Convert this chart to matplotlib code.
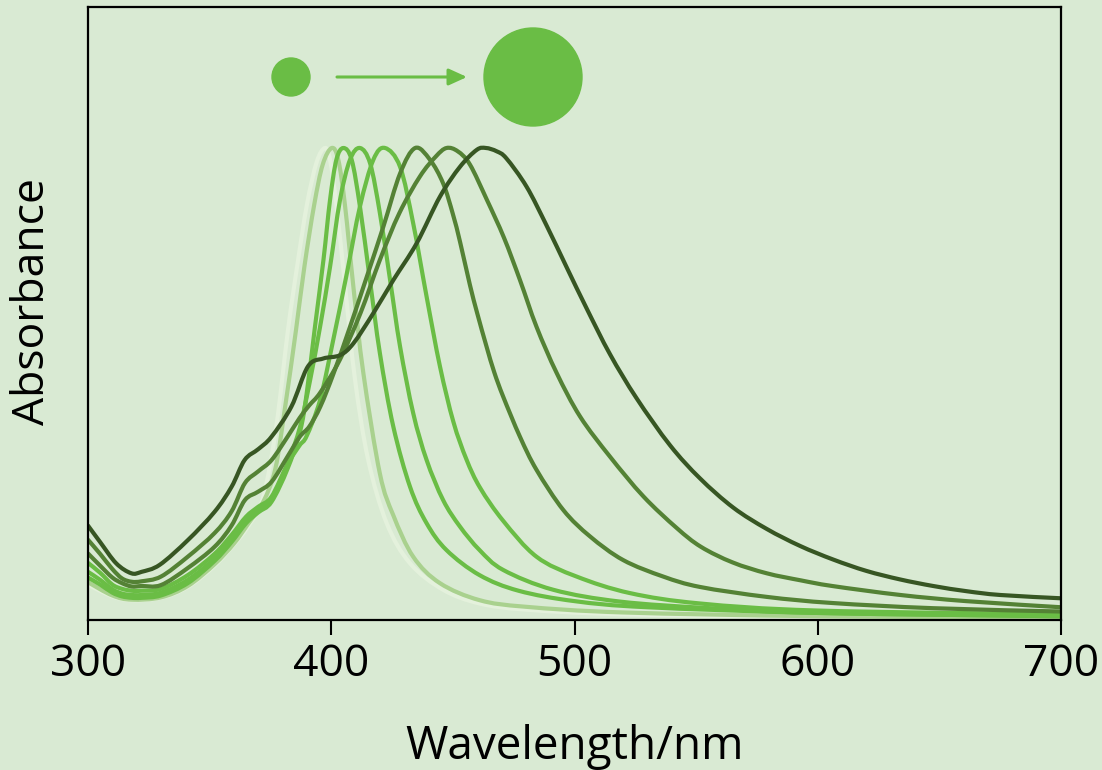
import numpy as np
import matplotlib.pyplot as plt
from matplotlib.patches import Ellipse, PathPatch
from matplotlib.path import Path

# Spectra (wavelength in nm, absorbance normalised to peak)
wl_l0 = [300, 310, 318, 330, 341, 352, 360, 366, 372, 377.4, 382.2, 386, 390, 394, 397.4,
         399.5, 402.2, 405.7, 409.8, 415.2, 422.8, 432.4, 446, 461, 480, 520, 600, 700]
ab_l0 = [0.075, 0.05, 0.042, 0.047, 0.07, 0.115, 0.16, 0.2, 0.26, 0.41, 0.614, 0.75, 0.88, 0.97, 1.0,
         0.975, 0.876, 0.706, 0.508, 0.339, 0.205, 0.12, 0.064, 0.035, 0.022, 0.012, 0.006, 0.004]

wl_l1 = [300, 310, 318, 330, 341, 352, 360, 366, 372, 377, 381, 385.5, 389, 393, 396.5, 400.2,
         402.9, 405.7, 409.1, 413.2, 420, 425.5, 433.7, 444.7, 461, 480, 520, 600, 700]
ab_l1 = [0.08, 0.052, 0.043, 0.048, 0.072, 0.118, 0.162, 0.205, 0.25, 0.32, 0.45, 0.614, 0.75, 0.88, 0.965, 1.0,
         0.975, 0.876, 0.706, 0.523, 0.31, 0.222, 0.134, 0.078, 0.042, 0.028, 0.016, 0.008, 0.005]

wl_g3 = [300, 305, 310, 314, 318, 322, 330, 341, 352, 359, 365, 370, 375.4, 382, 387.2, 389.9, 393.3,
         396.8, 399.5, 402.1, 405, 408.4, 411.8, 415.9, 420, 425.5, 432.4, 439.2, 447.4, 461, 477,
         500, 530, 600, 700]
ab_g3 = [0.09, 0.075, 0.058, 0.05, 0.047, 0.047, 0.052, 0.078, 0.125, 0.165, 0.205, 0.228, 0.25, 0.32, 0.40, 0.48, 0.621,
         0.763, 0.89, 0.975, 1.0, 0.975, 0.876, 0.72, 0.565, 0.41, 0.282, 0.205, 0.148, 0.095, 0.062,
         0.04, 0.027, 0.015, 0.008]

wl_g2 = [300, 305, 310, 314, 318, 322, 330, 341, 352, 359, 365, 370, 375.4, 382, 387.2, 391.3, 395.4,
         399.5, 403.6, 407.7, 411.8, 416, 420, 424.2, 428.3, 433.7, 439.2, 446, 452.9, 461, 470.7,
         491.3, 518.7, 555.7, 600, 700]
ab_g2 = [0.102, 0.085, 0.065, 0.056, 0.053, 0.053, 0.058, 0.085, 0.13, 0.17, 0.21, 0.232, 0.255, 0.33, 0.41, 0.508, 0.621,
         0.748, 0.89, 0.975, 1.0, 0.967, 0.862, 0.72, 0.579, 0.438, 0.339, 0.254, 0.198, 0.148, 0.106,
         0.064, 0.039, 0.025, 0.015, 0.008]

wl_g1 = [300, 305, 310, 314, 318, 322, 330, 341, 352, 359, 365, 370, 375.4, 382, 387, 389.9, 395.4,
         400.8, 406.4, 411.8, 417.3, 422.1, 428.3, 433.7, 439.2, 444.7, 450.2, 455.6, 461.2, 470.7,
         484.4, 500.9, 522.8, 551.6, 600, 700]
ab_g1 = [0.121, 0.1, 0.075, 0.066, 0.062, 0.062, 0.066, 0.095, 0.14, 0.18, 0.219, 0.24, 0.261, 0.33, 0.37, 0.39, 0.466,
         0.593, 0.734, 0.876, 0.975, 1.0, 0.96, 0.84, 0.685, 0.537, 0.42, 0.34, 0.28, 0.21,
         0.134, 0.092, 0.057, 0.035, 0.02, 0.012]

wl_d3 = [300, 305, 310, 314, 318, 322, 330, 341, 352, 359, 364.5, 370, 375.5, 382, 387, 391, 395.5,
         401, 407.7, 414.6, 421.4, 428.3, 434.5, 440.6, 446, 450, 453, 457, 460, 463.8, 467, 470.7,
         477.6, 484.4, 495.4, 506.4, 520, 536.5, 551.6, 579, 606, 647.5, 700]
ab_d3 = [0.141, 0.115, 0.09, 0.078, 0.071, 0.072, 0.074, 0.11, 0.155, 0.2, 0.254, 0.272, 0.293, 0.346, 0.388, 0.41, 0.452,
         0.523, 0.621, 0.727, 0.833, 0.946, 1.0, 0.975, 0.925, 0.86, 0.80, 0.71, 0.65, 0.58, 0.525, 0.473,
         0.388, 0.318, 0.233, 0.177, 0.127, 0.092, 0.07, 0.049, 0.036, 0.025, 0.018]

wl_d2 = [300, 305, 310, 314, 318, 322, 330, 341, 352, 359, 364.5, 370, 375.5, 382, 387, 391, 395.5,
         403.5, 412, 420, 428, 436.5, 443, 447.4, 452, 457, 464, 471, 477.6, 484.4, 492.7, 502.3,
         514.6, 528.3, 542, 552, 565, 579, 593, 606, 634, 661, 700]
ab_d2 = [0.17, 0.14, 0.108, 0.088, 0.081, 0.082, 0.092, 0.134, 0.184, 0.23, 0.29, 0.315, 0.339, 0.388, 0.428, 0.455, 0.482,
         0.551, 0.65, 0.763, 0.862, 0.94, 0.982, 1.0, 0.993, 0.965, 0.89, 0.81, 0.72, 0.621, 0.523, 0.431,
         0.346, 0.262, 0.195, 0.155, 0.122, 0.099, 0.084, 0.072, 0.053, 0.04, 0.027]

wl_d1 = [300, 305, 311.6, 317.8, 322, 329.5, 341, 352, 359, 364.4, 370, 375.4, 383.6, 390.4, 396.7,
         403.6, 409.1, 417.3, 425.5, 435.1, 444.7, 452.9, 459.8, 463.6, 468, 472, 480.3, 488.5, 496.8,
         505, 514.6, 525.5, 539.3, 551.6, 565.3, 579, 592.7, 606.4, 620, 633.8, 647.5, 661.2, 675, 700]
ab_d1 = [0.2, 0.165, 0.12, 0.099, 0.102, 0.117, 0.169, 0.229, 0.282, 0.339, 0.362, 0.388, 0.452, 0.537, 0.554,
         0.561, 0.586, 0.65, 0.72, 0.798, 0.897, 0.96, 0.996, 1.0, 0.993, 0.978, 0.918, 0.836, 0.747,
         0.66, 0.563, 0.47, 0.37, 0.30, 0.238, 0.193, 0.157, 0.128, 0.104, 0.086, 0.072, 0.061, 0.053, 0.046]

spectra = [(wl_l0, ab_l0, '#e4f1dc'), (wl_l1, ab_l1, '#a9d18e'),
           (wl_g3, ab_g3, '#6abd45'), (wl_g2, ab_g2, '#6abd45'), (wl_g1, ab_g1, '#6abd45'),
           (wl_d3, ab_d3, '#548235'), (wl_d2, ab_d2, '#548235'), (wl_d1, ab_d1, '#375623')]


def smooth_path(x, y):
    # spreadsheet-style "smoothed line": cubic Bezier segments through every point
    p = np.column_stack([x, y]).astype(float)
    ext = np.vstack([p[0], p, p[-1]])
    verts = [p[0]]
    codes = [Path.MOVETO]
    for i in range(len(p) - 1):
        p0, p1, p2, p3 = ext[i], ext[i + 1], ext[i + 2], ext[i + 3]
        verts += [p1 + (p2 - p0) / 6, p2 - (p3 - p1) / 6, p2]
        codes += [Path.CURVE4] * 3
    return Path(verts, codes)


bg = '#d9ead3'
plt.rcParams['font.family'] = ['Open Sans', 'DejaVu Sans']

fig = plt.figure(figsize=(11.02, 7.7), dpi=100, facecolor=bg)
ax = fig.add_axes([88 / 1102, 1 - 620 / 770, 973 / 1102, 613 / 770])
ax.set_facecolor(bg)

for wl, ab, col in spectra:
    ax.add_patch(PathPatch(smooth_path(wl, ab), facecolor='none', edgecolor=col,
                           lw=3.0, capstyle='round', joinstyle='round'))

ax.set_xlim(300, 700)
ax.set_ylim(0, 1.2987)
ax.set_xticks([300, 400, 500, 600, 700])
ax.set_yticks([])
ax.tick_params(axis='x', direction='out', length=10.5, width=1.5, labelsize=32, pad=6)
for s in ax.spines.values():
    s.set_linewidth(1.6)
    s.set_color('black')

ax.set_xlabel('Wavelength/nm', fontsize=33, labelpad=26)
ax.set_ylabel('Absorbance', fontsize=32)
ax.yaxis.set_label_coords(-0.034, 0.519)

# size cartoon: small particle -> large particle
W, H = 1102, 770
dot = '#6abd45'
fig.add_artist(Ellipse((291 / W, 1 - 77 / H), 38 / W, 38 / H, color=dot))
fig.add_artist(Ellipse((533 / W, 1 - 77 / H), 98 / W, 98 / H, color=dot))
ax.annotate('', xy=(467 / W, 1 - 77 / H), xytext=(337 / W, 1 - 77 / H),
            xycoords='figure fraction', textcoords='figure fraction',
            arrowprops=dict(arrowstyle='-|>,head_length=1.1,head_width=0.5', color=dot, lw=2.2,
                            shrinkA=0, shrinkB=0))

fig.savefig('out.png', dpi=100, facecolor=bg)
